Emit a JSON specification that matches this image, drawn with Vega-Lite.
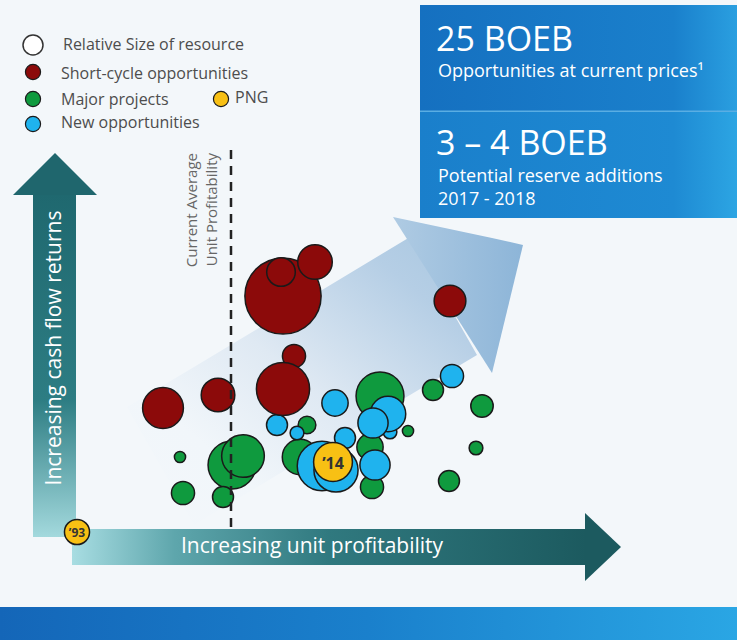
{
  "$schema": "https://vega.github.io/schema/vega-lite/v6.json",
  "width": 737,
  "height": 640,
  "padding": 0,
  "autosize": {"type": "fit", "contains": "padding"},
  "background": "#f3f7fa",
  "config": {"view": {"stroke": null}, "text": {"font": "Open Sans"}},
  "encoding": {
    "x": {"field": "x", "type": "quantitative", "scale": {"domain": [0, 737], "nice": false, "zero": false}, "axis": null},
    "y": {"field": "y", "type": "quantitative", "scale": {"domain": [0, 640], "reverse": true, "nice": false, "zero": false}, "axis": null}
  },
  "layer": [
    {
      "data": {"values": [{"x": 420, "x2": 737, "y": 5, "y2": 218}]},
      "mark": {"type": "rect", "color": "#5aaee3"},
      "encoding": {"x2": {"field": "x2"}, "y2": {"field": "y2"}}
    },
    {
      "data": {"values": [{"x": 420, "x2": 737, "y": 5, "y2": 110.5}]},
      "mark": {"type": "rect", "color": {"gradient": "linear", "x1": 0, "y1": 0, "x2": 1, "y2": 0, "stops": [{"offset": 0, "color": "#1570c0"}, {"offset": 0.8, "color": "#1a80cc"}, {"offset": 1, "color": "#2a9fe0"}]}},
      "encoding": {"x2": {"field": "x2"}, "y2": {"field": "y2"}}
    },
    {
      "data": {"values": [{"x": 420, "x2": 737, "y": 112, "y2": 218}]},
      "mark": {"type": "rect", "color": {"gradient": "linear", "x1": 0, "y1": 0, "x2": 1, "y2": 0, "stops": [{"offset": 0, "color": "#1a7fcb"}, {"offset": 0.8, "color": "#1e8ad3"}, {"offset": 1, "color": "#2ca5e3"}]}},
      "encoding": {"x2": {"field": "x2"}, "y2": {"field": "y2"}}
    },
    {
      "data": {"values": [
        {"x": 127, "y": 407, "y2": 407},
        {"x": 194, "y": 367, "y2": 525},
        {"x": 410, "y": 237, "y2": 395},
        {"x": 477, "y": 355, "y2": 355}
      ]},
      "mark": {"type": "area", "color": {"gradient": "linear", "x1": 0, "y1": 1, "x2": 1, "y2": 0, "stops": [{"offset": 0, "color": "#f3f7fa"}, {"offset": 0.25, "color": "#f1f6fa"}, {"offset": 0.5, "color": "#dfe9f3"}, {"offset": 0.82, "color": "#b5cee5"}, {"offset": 1, "color": "#a8c7e0"}]}},
      "encoding": {"y2": {"field": "y2"}}
    },
    {
      "data": {"values": [
        {"x": 393, "y": 217, "y2": 217},
        {"x": 492, "y": 238, "y2": 373},
        {"x": 523, "y": 245, "y2": 245}
      ]},
      "mark": {"type": "area", "color": {"gradient": "linear", "x1": 0, "y1": 0, "x2": 1, "y2": 0, "stops": [{"offset": 0, "color": "#afcbe3"}, {"offset": 1, "color": "#8db5d8"}]}},
      "encoding": {"y2": {"field": "y2"}}
    },
    {
      "data": {"values": [{"x": 33, "x2": 76, "y": 194, "y2": 537}]},
      "mark": {"type": "rect", "color": {"gradient": "linear", "x1": 0, "y1": 0, "x2": 0, "y2": 1, "stops": [{"offset": 0, "color": "#1f686f"}, {"offset": 0.6, "color": "#2d7d83"}, {"offset": 1, "color": "#a3d9dd"}]}},
      "encoding": {"x2": {"field": "x2"}, "y2": {"field": "y2"}}
    },
    {
      "data": {"values": [
        {"x": 13, "y": 195, "y2": 195},
        {"x": 55, "y": 153, "y2": 195},
        {"x": 97, "y": 195, "y2": 195}
      ]},
      "mark": {"type": "area", "color": "#1f666d"},
      "encoding": {"y2": {"field": "y2"}}
    },
    {
      "data": {"values": [{"x": 72, "x2": 586, "y": 529, "y2": 565}]},
      "mark": {"type": "rect", "color": {"gradient": "linear", "x1": 0, "y1": 0, "x2": 1, "y2": 0, "stops": [{"offset": 0, "color": "#a8dde2"}, {"offset": 0.2, "color": "#5ea6ac"}, {"offset": 0.5, "color": "#30797f"}, {"offset": 1, "color": "#1c5a5f"}]}},
      "encoding": {"x2": {"field": "x2"}, "y2": {"field": "y2"}}
    },
    {
      "data": {"values": [
        {"x": 585, "y": 513, "y2": 581},
        {"x": 621, "y": 547, "y2": 547}
      ]},
      "mark": {"type": "area", "color": "#1c5a5f"},
      "encoding": {"y2": {"field": "y2"}}
    },
    {
      "data": {"values": [{"x": 0, "x2": 737, "y": 607, "y2": 640}]},
      "mark": {"type": "rect", "color": {"gradient": "linear", "x1": 0, "y1": 0, "x2": 1, "y2": 0, "stops": [{"offset": 0, "color": "#1466b8"}, {"offset": 0.5, "color": "#1a80cc"}, {"offset": 1, "color": "#2aa6e4"}]}},
      "encoding": {"x2": {"field": "x2"}, "y2": {"field": "y2"}}
    },
    {
      "data": {"values": [
        {"x": 232, "y": 465, "type": "Major projects", "resource": 73},
        {"x": 243, "y": 456, "type": "Major projects", "resource": 58},
        {"x": 180, "y": 457, "type": "Major projects", "resource": 4},
        {"x": 183, "y": 493, "type": "Major projects", "resource": 17},
        {"x": 223, "y": 497, "type": "Major projects", "resource": 14},
        {"x": 277, "y": 425, "type": "New opportunities", "resource": 14},
        {"x": 283, "y": 296, "type": "Short-cycle opportunities", "resource": 185},
        {"x": 281, "y": 272, "type": "Short-cycle opportunities", "resource": 26},
        {"x": 315, "y": 262, "type": "Short-cycle opportunities", "resource": 38},
        {"x": 450, "y": 301, "type": "Short-cycle opportunities", "resource": 32},
        {"x": 294, "y": 356, "type": "Short-cycle opportunities", "resource": 17},
        {"x": 283, "y": 389, "type": "Short-cycle opportunities", "resource": 90},
        {"x": 218, "y": 395, "type": "Short-cycle opportunities", "resource": 36},
        {"x": 163, "y": 408, "type": "Short-cycle opportunities", "resource": 53},
        {"x": 380, "y": 396, "type": "Major projects", "resource": 73},
        {"x": 307, "y": 425, "type": "Major projects", "resource": 10},
        {"x": 300, "y": 457, "type": "Major projects", "resource": 40},
        {"x": 370, "y": 447, "type": "Major projects", "resource": 22},
        {"x": 372, "y": 487, "type": "Major projects", "resource": 17},
        {"x": 433, "y": 390, "type": "Major projects", "resource": 14},
        {"x": 482, "y": 406, "type": "Major projects", "resource": 16},
        {"x": 476, "y": 448, "type": "Major projects", "resource": 6},
        {"x": 449, "y": 481, "type": "Major projects", "resource": 14},
        {"x": 452, "y": 376, "type": "New opportunities", "resource": 17},
        {"x": 335, "y": 403, "type": "New opportunities", "resource": 22},
        {"x": 297, "y": 433, "type": "New opportunities", "resource": 6},
        {"x": 390, "y": 432, "type": "New opportunities", "resource": 6},
        {"x": 388, "y": 414, "type": "New opportunities", "resource": 40},
        {"x": 373, "y": 423, "type": "New opportunities", "resource": 29},
        {"x": 345, "y": 438, "type": "New opportunities", "resource": 14},
        {"x": 375, "y": 465, "type": "New opportunities", "resource": 29},
        {"x": 322, "y": 466, "type": "New opportunities", "resource": 78},
        {"x": 336, "y": 470, "type": "New opportunities", "resource": 62},
        {"x": 333, "y": 462, "type": "PNG", "resource": 48},
        {"x": 77, "y": 532, "type": "PNG", "resource": 20},
        {"x": 408, "y": 431, "type": "Major projects", "resource": 4}
      ]},
      "mark": {"type": "circle", "opacity": 1, "stroke": "#1a1a1a", "strokeWidth": 1.5},
      "encoding": {
        "size": {"field": "resource", "type": "quantitative", "scale": {"domain": [0, 200], "range": [0, 6283], "zero": true}, "legend": null},
        "color": {"field": "type", "type": "nominal", "scale": {"domain": ["Short-cycle opportunities", "Major projects", "New opportunities", "PNG"], "range": ["#8c0a0a", "#0f9a3e", "#1fb3ee", "#f8c014"]}, "legend": null}
      }
    },
    {
      "data": {"values": [{"x": 231, "y": 150, "y2": 527}]},
      "mark": {"type": "rule", "color": "#222222", "strokeWidth": 2.5, "strokeDash": [9, 7]},
      "encoding": {"y2": {"field": "y2"}}
    },
    {
      "data": {"values": [{"x": 333, "y": 464, "label": "’14"}]},
      "mark": {"type": "text", "fontSize": 16, "fontWeight": "bold", "color": "#333333", "align": "center", "baseline": "middle"},
      "encoding": {"text": {"field": "label"}}
    },
    {
      "data": {"values": [{"x": 77, "y": 533, "label": "’93"}]},
      "mark": {"type": "text", "fontSize": 12, "fontWeight": "bold", "color": "#333333", "align": "center", "baseline": "middle"},
      "encoding": {"text": {"field": "label"}}
    },
    {
      "data": {"values": [{"x": 33, "y": 45}]},
      "mark": {"type": "circle", "opacity": 1, "color": "#ffffff", "stroke": "#333333", "strokeWidth": 1.5, "size": 400}
    },
    {
      "data": {"values": [
        {"x": 33, "y": 72, "type": "Short-cycle opportunities"},
        {"x": 33, "y": 99, "type": "Major projects"},
        {"x": 33, "y": 124, "type": "New opportunities"},
        {"x": 221, "y": 99, "type": "PNG"}
      ]},
      "mark": {"type": "circle", "opacity": 1, "stroke": "#1a1a1a", "strokeWidth": 1.2, "size": 230},
      "encoding": {"color": {"field": "type", "type": "nominal", "legend": null}}
    },
    {
      "data": {"values": [
        {"x": 63, "y": 45, "label": "Relative Size of resource"},
        {"x": 61, "y": 74, "label": "Short-cycle opportunities"},
        {"x": 61, "y": 100, "label": "Major projects"},
        {"x": 61, "y": 123, "label": "New opportunities"},
        {"x": 235, "y": 98, "label": "PNG"}
      ]},
      "mark": {"type": "text", "fontSize": 16, "color": "#4d4d4d", "align": "left", "baseline": "middle"},
      "encoding": {"text": {"field": "label"}}
    },
    {
      "data": {"values": [
        {"x": 436, "y": 51, "label": "25 BOEB"},
        {"x": 436, "y": 155, "label": "3 – 4 BOEB"}
      ]},
      "mark": {"type": "text", "fontSize": 34, "color": "#ffffff", "align": "left", "baseline": "alphabetic"},
      "encoding": {"text": {"field": "label"}}
    },
    {
      "data": {"values": [
        {"x": 438, "y": 77, "label": "Opportunities at current prices¹"},
        {"x": 438, "y": 182, "label": "Potential reserve additions"},
        {"x": 438, "y": 205, "label": "2017 - 2018"}
      ]},
      "mark": {"type": "text", "fontSize": 18, "color": "#ffffff", "align": "left", "baseline": "alphabetic"},
      "encoding": {"text": {"field": "label"}}
    },
    {
      "data": {"values": [
        {"x": 192, "y": 153, "label": "Current Average"},
        {"x": 212, "y": 153, "label": "Unit Profitability"}
      ]},
      "mark": {"type": "text", "fontSize": 15, "color": "#666666", "angle": 270, "align": "right", "baseline": "middle"},
      "encoding": {"text": {"field": "label"}}
    },
    {
      "data": {"values": [{"x": 55, "y": 348, "label": "Increasing cash flow returns"}]},
      "mark": {"type": "text", "fontSize": 21, "color": "#ffffff", "angle": 270, "align": "center", "baseline": "middle"},
      "encoding": {"text": {"field": "label"}}
    },
    {
      "data": {"values": [{"x": 312, "y": 547, "label": "Increasing unit profitability"}]},
      "mark": {"type": "text", "fontSize": 21, "color": "#ffffff", "align": "center", "baseline": "middle"},
      "encoding": {"text": {"field": "label"}}
    }
  ]
}
